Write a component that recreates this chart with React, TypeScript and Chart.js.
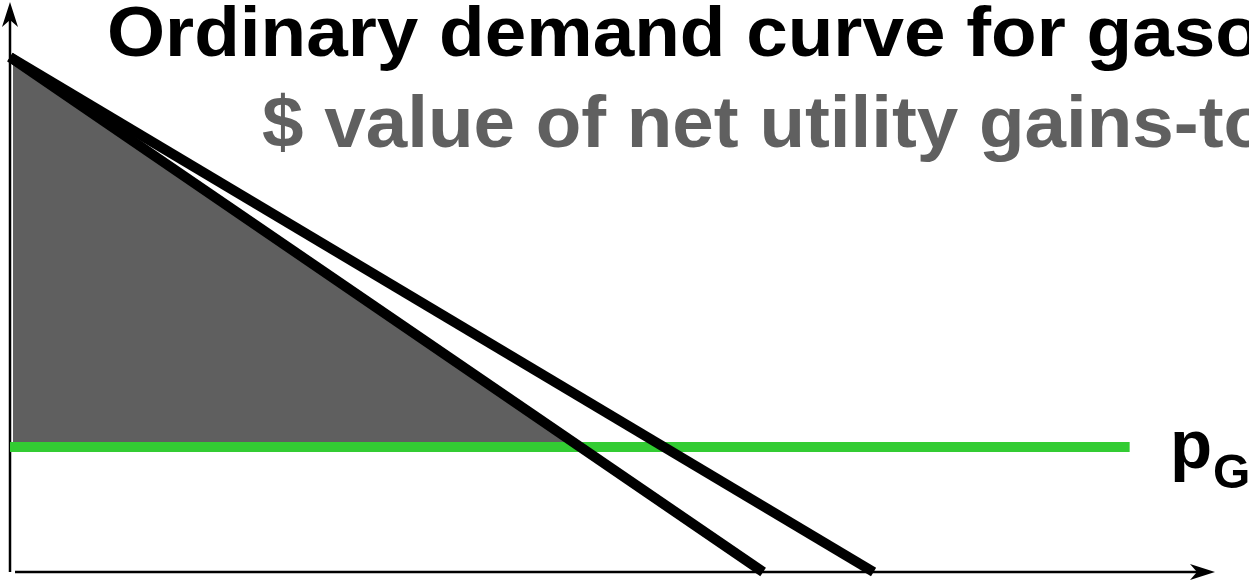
import React, { useEffect, useRef } from "react";
import { Chart, registerables } from "chart.js";

Chart.register(...registerables);

// ---- text ----
const titleText = "Ordinary demand curve for gasoline";
const subtitleText = "$ value of net utility gains-to-trade";
const priceLabel = "p";
const priceSubscript = "G";

// ---- data (quantity on x, price on y) ----
const ordinaryDemandQ = [0, 7.5];
const ordinaryDemandP = [10, 0];
const otherDemandQ = [0, 8.6];
const otherDemandP = [10, 0];
const priceLineQ = [0, 11.15];
const priceLineP = [2.43, 2.43];
const surplusQ = [0.03, 5.68];
const surplusP = [9.96, 2.43];
const gasPrice = 2.43;
const xMax = 12;
const yMax = 11.07;

const toPoints = (xs: number[], ys: number[]) => xs.map((x, i) => ({ x, y: ys[i] }));

function drawArrow(ctx: CanvasRenderingContext2D, tx: number, ty: number, dx: number, dy: number) {
  const len = 25;
  const half = 8;
  const notch = 18;
  const px = -dy;
  const py = dx;
  ctx.beginPath();
  ctx.moveTo(tx, ty);
  ctx.lineTo(tx - dx * len + px * half, ty - dy * len + py * half);
  ctx.lineTo(tx - dx * notch, ty - dy * notch);
  ctx.lineTo(tx - dx * len - px * half, ty - dy * len - py * half);
  ctx.closePath();
  ctx.fill();
}

function drawStretched(ctx: CanvasRenderingContext2D, text: string, x: number, y: number, sx: number) {
  ctx.save();
  ctx.translate(x, y);
  ctx.scale(sx, 1);
  ctx.fillText(text, 0, 0);
  ctx.restore();
}

const overlayPlugin = {
  id: "overlay",
  beforeDatasetsDraw(chart: any) {
    const { ctx, scales } = chart;
    const xs = scales.x;
    const ys = scales.y;
    const x0 = xs.getPixelForValue(0);
    const y0 = ys.getPixelForValue(0);
    const yTop = ys.getPixelForValue(yMax);
    const xEnd = xs.getPixelForValue(xMax);
    ctx.save();
    ctx.strokeStyle = "#000";
    ctx.fillStyle = "#000";
    ctx.lineWidth = 2.5;
    ctx.beginPath();
    ctx.moveTo(x0, y0);
    ctx.lineTo(x0, yTop + 12);
    ctx.stroke();
    ctx.beginPath();
    ctx.moveTo(xs.getPixelForValue(0.05), y0);
    ctx.lineTo(xEnd - 12, y0);
    ctx.stroke();
    drawArrow(ctx, x0, yTop, 0, -1);
    drawArrow(ctx, xEnd, y0, 1, 0);
    ctx.restore();
  },
  afterDraw(chart: any) {
    const { ctx, scales } = chart;
    const yPrice = scales.y.getPixelForValue(gasPrice);
    ctx.save();
    ctx.textAlign = "left";
    ctx.textBaseline = "alphabetic";
    ctx.fillStyle = "#000000";
    ctx.font = "bold 71px 'Liberation Sans', Arial, sans-serif";
    drawStretched(ctx, titleText, 107, 56, 1.052);
    ctx.fillStyle = "#606060";
    ctx.font = "bold 72px 'Liberation Sans', Arial, sans-serif";
    drawStretched(ctx, subtitleText, 262, 147, 1.036);
    ctx.fillStyle = "#000000";
    ctx.font = "bold 69px 'Liberation Sans', Arial, sans-serif";
    ctx.fillText(priceLabel, 1170, yPrice + 21);
    ctx.font = "bold 48px 'Liberation Sans', Arial, sans-serif";
    ctx.fillText(priceSubscript, 1213, yPrice + 41);
    ctx.restore();
  },
};

export default function App() {
  const canvasRef = useRef<HTMLCanvasElement | null>(null);

  useEffect(() => {
    document.body.style.margin = "0";
    const canvas = canvasRef.current;
    if (!canvas) return;
    const chart = new Chart(canvas, {
      type: "scatter",
      data: {
        datasets: [
          {
            label: "Ordinary demand",
            data: toPoints(ordinaryDemandQ, ordinaryDemandP),
            showLine: true,
            borderColor: "#000000",
            borderWidth: 10,
            pointRadius: 0,
            clip: false,
            order: 1,
          } as any,
          {
            label: "Other demand",
            data: toPoints(otherDemandQ, otherDemandP),
            showLine: true,
            borderColor: "#000000",
            borderWidth: 10,
            pointRadius: 0,
            clip: false,
            order: 1,
          },
          {
            label: "Price of gasoline",
            data: toPoints(priceLineQ, priceLineP),
            showLine: true,
            borderColor: "#33cc33",
            borderWidth: 10,
            pointRadius: 0,
            clip: false,
            order: 2,
          },
          {
            label: "Net gains-to-trade",
            data: toPoints(surplusQ, surplusP),
            showLine: true,
            borderWidth: 0,
            borderColor: "rgba(0,0,0,0)",
            backgroundColor: "#5f5f5f",
            fill: { value: gasPrice },
            pointRadius: 0,
            clip: false,
            order: 3,
          },
        ],
      },
      options: {
        animation: false,
        responsive: false,
        devicePixelRatio: 1,
        layout: { padding: { left: 10, right: 34, top: 2, bottom: 9 } },
        scales: {
          x: { type: "linear", min: 0, max: xMax, display: false },
          y: { type: "linear", min: 0, max: yMax, display: false },
        },
        plugins: {
          legend: { display: false },
          tooltip: { enabled: false },
          title: { display: false },
        },
      },
      plugins: [overlayPlugin],
    });
    return () => chart.destroy();
  }, []);

  return (
    <div style={{ position: "absolute", left: 0, top: 0, width: 1249, height: 581, background: "#fff" }}>
      <canvas ref={canvasRef} width={1249} height={581} />
    </div>
  );
}
